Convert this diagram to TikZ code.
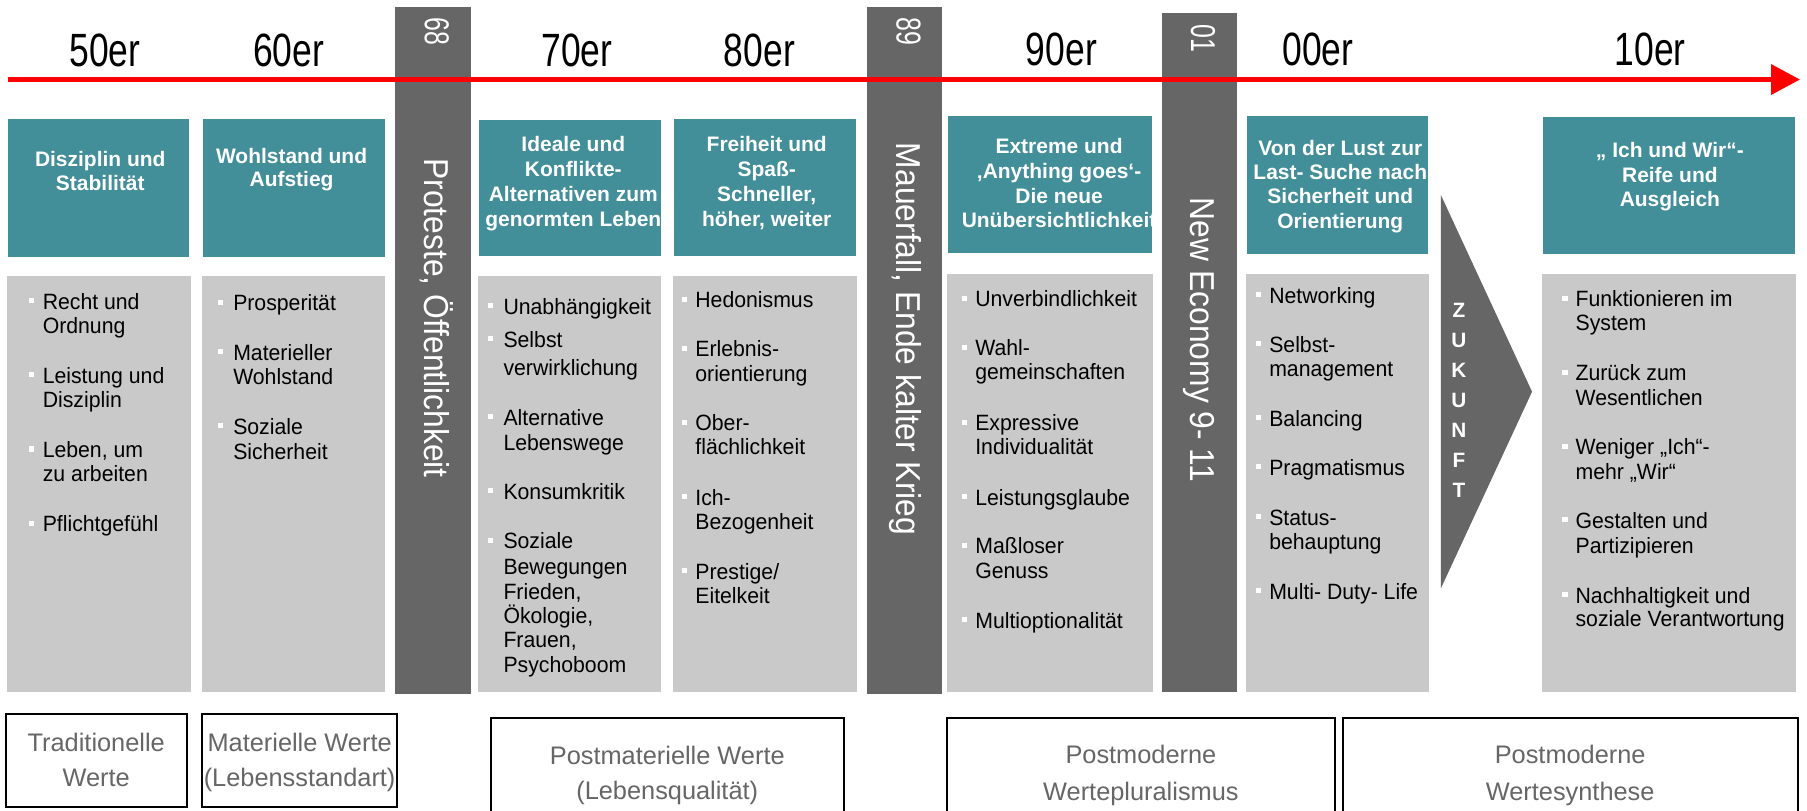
\documentclass[tikz,border=0pt]{standalone}
\usepackage{fontspec}
\setmainfont{Liberation Sans}
\newfontfamily\narrowfont{Liberation Sans}[FakeStretch=0.76]
\newfontfamily\yrfont{Liberation Sans}[FakeStretch=0.72]
\newfontfamily\rotfont{Liberation Sans}[FakeStretch=0.92]
\newfontfamily\listfont{Liberation Sans}[FakeStretch=0.96]
\usetikzlibrary{fit,arrows.meta}
\definecolor{tealc}{HTML}{428E99}
\definecolor{greyc}{HTML}{C9C9C9}
\definecolor{darkc}{HTML}{666666}
\definecolor{redc}{HTML}{FF0000}
\definecolor{bottxt}{HTML}{666666}
\tikzset{
 box/.style={inner sep=0pt, outer sep=0pt, draw=none},
 tealbox/.style={box, fill=tealc},
 greybox/.style={box, fill=greyc},
 bar/.style={box, fill=darkc},
 epoch/.style={anchor=base, inner sep=0pt, font=\narrowfont\fontsize{20.25}{24}\selectfont},
 yr/.style={anchor=mid, inner sep=0pt, rotate=-90, text=white, font=\yrfont\fontsize{15}{17}\selectfont},
 event/.style={anchor=mid, inner sep=0pt, rotate=-90, text=white, font=\rotfont\fontsize{15}{18}\selectfont},
 title/.style={anchor=base, inner sep=0pt, text=white, font=\bfseries\fontsize{9.1}{10.7}\selectfont},
 li/.style={anchor=base west, inner sep=0pt, font=\listfont\fontsize{9.6}{10.7}\selectfont},
 bul/.style={fill=white, inner sep=0pt, minimum size=2.2pt, draw=none},
 valbox/.style={draw=black, line width=0.8pt, fill=white, inner sep=0pt},
 valtxt/.style={anchor=base, inner sep=0pt, text=bottxt, font=\fontsize{11}{13}\selectfont},
}
\begin{document}
\begin{tikzpicture}[x=0.5pt,y=-0.5pt]
\useasboundingbox (0,0) rectangle (1568,703);
\fill[white] (0,0) rectangle (1568,703);
% teal boxes
\node[tealbox, fit={(6.9,103.5) (164,222.7)}] (t1) {};
\node[tealbox, fit={(176,103.5) (333.8,222.7)}] (t2) {};
\node[tealbox, fit={(415.8,104.1) (573.2,222.2)}] (t3) {};
\node[tealbox, fit={(585.1,103.3) (743,222.2)}] (t4) {};
\node[tealbox, fit={(822.6,100.4) (1000,219.8)}] (t5) {};
\node[tealbox, fit={(1081.9,100.7) (1239.2,220.4)}] (t6) {};
\node[tealbox, fit={(1338.8,101.2) (1557.4,220.7)}] (t7) {};
% grey boxes
\node[greybox, fit={(6.2,239.5) (165.7,600.2)}] (g1) {};
\node[greybox, fit={(175.3,239.5) (334.5,600.2)}] (g2) {};
\node[greybox, fit={(415.2,239.5) (573.2,600.2)}] (g3) {};
\node[greybox, fit={(584.2,239.5) (743.7,600.2)}] (g4) {};
\node[greybox, fit={(822,237.8) (1000.4,600.2)}] (g5) {};
\node[greybox, fit={(1081.2,237.8) (1239.9,600.2)}] (g6) {};
\node[greybox, fit={(1338.1,237.8) (1558.5,600.2)}] (g7) {};
% dark bars
\node[bar, fit={(343.1,6.4) (408.3,602.2)}] (bar68) {};
\node[bar, fit={(752.3,6.4) (817.4,602.2)}] (bar89) {};
\node[bar, fit={(1007.9,11.6) (1073.2,600.2)}] (bar01) {};
% chevron
\fill[darkc] (1250.3,169.2) -- (1329.4,339.9) -- (1250.3,510.5) -- cycle;
\node[anchor=center, inner sep=0pt, align=center, text=white, font=\bfseries\fontsize{9}{13}\selectfont] (zk) at (1266,347.1) {Z\\U\\K\\U\\N\\F\\T};
% timeline
\coordinate (ls) at (6.9,69);
\coordinate (le) at (1562,69);
\draw[redc, line width=2.5pt, -{Triangle[length=12.6pt, width=12.7pt]}] (ls) -- (le);
% epochs
\node[epoch] (e50) at (91,57.5) {50er};
\node[epoch] (e60) at (250.5,57.5) {60er};
\node[epoch] (e70) at (500.5,57.5) {70er};
\node[epoch] (e80) at (659,57.5) {80er};
\node[epoch] (e90) at (921,56.5) {90er};
\node[epoch] (e00) at (1143.7,57) {00er};
\node[epoch] (e10) at (1432,57) {10er};
% bar labels
\node[yr] (y68) at (374,27.5) {68};
\node[yr] (y89) at (783.2,27.5) {89};
\node[yr] (y01) at (1038.9,33.2) {01};
\node[event] (ev68) at (373.7,276) {Proteste, Öffentlichkeit};
\node[event] (ev89) at (782.9,294.3) {Mauerfall, Ende kalter Krieg};
\node[event] (ev01) at (1038.6,295) {New Economy 9- 11};
% titles
\begin{scope}
\clip (t1.south west) rectangle (t1.north east);
\node[title] (t1a) at (87,144.6) {Disziplin und};
\node[title] (t1b) at (87,164.9) {Stabilität};
\end{scope}
\begin{scope}
\clip (t2.south west) rectangle (t2.north east);
\node[title] (t2a) at (253,141.7) {Wohlstand und};
\node[title] (t2b) at (253,162) {Aufstieg};
\end{scope}
\begin{scope}
\clip (t3.south west) rectangle (t3.north east);
\node[title] (t3a) at (497.5,131.6) {Ideale und};
\node[title] (t3b) at (497.5,153.3) {Konflikte-};
\node[title] (t3c) at (497.5,175) {Alternativen zum};
\node[title] (t3d) at (497.5,196.7) {genormten Leben};
\end{scope}
\begin{scope}
\clip (t4.south west) rectangle (t4.north east);
\node[title] (t4a) at (665.3,131.6) {Freiheit und};
\node[title] (t4b) at (665.3,153.3) {Spaß-};
\node[title] (t4c) at (665.3,175) {Schneller,};
\node[title] (t4d) at (665.3,196.7) {höher, weiter};
\end{scope}
\begin{scope}
\clip (t5.south west) rectangle (t5.north east);
\node[title] (t5a) at (919,133.6) {Extreme und};
\node[title] (t5b) at (919,154.8) {‚Anything goes‘-};
\node[title] (t5c) at (919,176.4) {Die neue};
\node[title] (t5d) at (919,197.6) {Unübersichtlichkeit};
\end{scope}
\begin{scope}
\clip (t6.south west) rectangle (t6.north east);
\node[title] (t6a) at (1163,134.5) {Von der Lust zur};
\node[title] (t6b) at (1163,155.6) {Last- Suche nach};
\node[title] (t6c) at (1163,176.4) {Sicherheit und};
\node[title] (t6d) at (1163,198.2) {Orientierung};
\end{scope}
\begin{scope}
\clip (t7.south west) rectangle (t7.north east);
\node[title] (t7a) at (1449,136.5) {„ Ich und Wir“-};
\node[title] (t7b) at (1449,158.5) {Reife und};
\node[title] (t7c) at (1449,179.3) {Ausgleich};
\end{scope}
% list 1
\node[bul] (g1b1) at (27,261) {};
\node[li] (g1l1) at (36.7,268.4) {Recht und};
\node[li] (g1l2) at (36.7,289.2) {Ordnung};
\node[bul] (g1b2) at (27,325.2) {};
\node[li] (g1l3) at (36.7,332.6) {Leistung und};
\node[li] (g1l4) at (36.7,353.8) {Disziplin};
\node[bul] (g1b3) at (27,389.6) {};
\node[li] (g1l5) at (36.7,397) {Leben, um};
\node[li] (g1l6) at (36.7,418) {zu arbeiten};
\node[bul] (g1b4) at (27,454) {};
\node[li] (g1l7) at (36.7,461.4) {Pflichtgefühl};
% list 2
\node[bul] (g2b1) at (191.5,262.2) {};
\node[li] (g2l1) at (202,269.6) {Prosperität};
\node[bul] (g2b2) at (191.5,305) {};
\node[li] (g2l2) at (202,312.4) {Materieller};
\node[li] (g2l3) at (202,333.5) {Wohlstand};
\node[bul] (g2b3) at (191.5,369.5) {};
\node[li] (g2l4) at (202,376.9) {Soziale};
\node[li] (g2l5) at (202,398.3) {Sicherheit};
% list 3
\node[bul] (g3b1) at (426,265.1) {};
\node[li] (g3l1) at (436.5,272.5) {Unabhängigkeit};
\node[bul] (g3b2) at (426,294) {};
\node[li] (g3l2) at (436.5,301.4) {Selbst};
\node[li] (g3l3) at (436.5,326) {verwirklichung};
\node[bul] (g3b3) at (426,361.4) {};
\node[li] (g3l4) at (436.5,368.8) {Alternative};
\node[li] (g3l5) at (436.5,390.5) {Lebenswege};
\node[bul] (g3b4) at (426,425.6) {};
\node[li] (g3l6) at (436.5,433) {Konsumkritik};
\node[bul] (g3b5) at (426,468.7) {};
\node[li] (g3l7) at (436.5,476.1) {Soziale};
\node[li] (g3l8) at (436.5,498.4) {Bewegungen};
\node[li] (g3l9) at (436.5,519.8) {Frieden,};
\node[li] (g3l10) at (436.5,540.9) {Ökologie,};
\node[li] (g3l11) at (436.5,562) {Frauen,};
\node[li] (g3l12) at (436.5,583.4) {Psychoboom};
% list 4
\node[bul] (g4b1) at (594,259.6) {};
\node[li] (g4l1) at (603,267) {Hedonismus};
\node[bul] (g4b2) at (594,302.1) {};
\node[li] (g4l2) at (603,309.5) {Erlebnis-};
\node[li] (g4l3) at (603,330.6) {orientierung};
\node[bul] (g4b3) at (594,366.3) {};
\node[li] (g4l4) at (603,373.7) {Ober-};
\node[li] (g4l5) at (603,394.8) {flächlichkeit};
\node[bul] (g4b4) at (594,430.8) {};
\node[li] (g4l6) at (603,438.2) {Ich-};
\node[li] (g4l7) at (603,459.3) {Bezogenheit};
\node[bul] (g4b5) at (594,495.3) {};
\node[li] (g4l8) at (603,502.7) {Prestige/};
\node[li] (g4l9) at (603,524.1) {Eitelkeit};
% list 5
\node[bul] (g5b1) at (837,258.7) {};
\node[li] (g5l1) at (845.9,266.1) {Unverbindlichkeit};
\node[bul] (g5b2) at (837,301.5) {};
\node[li] (g5l2) at (845.9,308.9) {Wahl-};
\node[li] (g5l3) at (845.9,329.7) {gemeinschaften};
\node[bul] (g5b3) at (837,366.3) {};
\node[li] (g5l4) at (845.9,373.7) {Expressive};
\node[li] (g5l5) at (845.9,394.2) {Individualität};
\node[bul] (g5b4) at (837,430.8) {};
\node[li] (g5l6) at (845.9,438.2) {Leistungsglaube};
\node[bul] (g5b5) at (837,473.3) {};
\node[li] (g5l7) at (845.9,480.7) {Maßloser};
\node[li] (g5l8) at (845.9,501.8) {Genuss};
\node[bul] (g5b6) at (837,537.8) {};
\node[li] (g5l9) at (845.9,545.2) {Multioptionalität};
% list 6
\node[bul] (g6b1) at (1092,255.8) {};
\node[li] (g6l1) at (1101,263.2) {Networking};
\node[bul] (g6b2) at (1092,298.3) {};
\node[li] (g6l2) at (1101,305.7) {Selbst-};
\node[li] (g6l3) at (1101,326.9) {management};
\node[bul] (g6b3) at (1092,362.3) {};
\node[li] (g6l4) at (1101,369.7) {Balancing};
\node[bul] (g6b4) at (1092,404.8) {};
\node[li] (g6l5) at (1101,412.2) {Pragmatismus};
\node[bul] (g6b5) at (1092,448.2) {};
\node[li] (g6l6) at (1101,455.6) {Status-};
\node[li] (g6l7) at (1101,476.7) {behauptung};
\node[bul] (g6b6) at (1092,512.7) {};
\node[li] (g6l8) at (1101,520.1) {Multi- Duty- Life};
% list 7
\node[bul] (g7b1) at (1358,258.7) {};
\node[li] (g7l1) at (1366.8,266.1) {Funktionieren im};
\node[li] (g7l2) at (1366.8,287.2) {System};
\node[bul] (g7b2) at (1358,322.9) {};
\node[li] (g7l3) at (1366.8,330.3) {Zurück zum};
\node[li] (g7l4) at (1366.8,352) {Wesentlichen};
\node[bul] (g7b3) at (1358,387.4) {};
\node[li] (g7l5) at (1366.8,394.8) {Weniger „Ich“-};
\node[li] (g7l6) at (1366.8,415.9) {mehr „Wir“};
\node[bul] (g7b4) at (1358,451.1) {};
\node[li] (g7l7) at (1366.8,458.5) {Gestalten und};
\node[li] (g7l8) at (1366.8,480.1) {Partizipieren};
\node[bul] (g7b5) at (1358,516.1) {};
\node[li] (g7l9) at (1366.8,523.5) {Nachhaltigkeit und};
\node[li] (g7l10) at (1366.8,543.8) {soziale Verantwortung};
% value boxes
\node[valbox, fit={(5,619.6) (162,700.5)}] (v1) {};
\node[valbox, fit={(175.4,619.6) (344.7,700.5)}] (v2) {};
\node[valbox, fit={(425.9,623.3) (732.3,712)}] (v3) {};
\node[valbox, fit={(822.1,623.3) (1158.5,712)}] (v4) {};
\node[valbox, fit={(1165,623.3) (1560,712)}] (v5) {};
\node[valtxt] (v1a) at (83.5,652.3) {Traditionelle};
\node[valtxt] (v1b) at (83.5,682.6) {Werte};
\node[valtxt] (v2a) at (260,652.3) {Materielle Werte};
\node[valtxt] (v2b) at (260,682.6) {(Lebensstandart)};
\node[valtxt] (v3a) at (579,663.8) {Postmaterielle Werte};
\node[valtxt] (v3b) at (579,694) {(Lebensqualität)};
\node[valtxt] (v4a) at (990,662.4) {Postmoderne};
\node[valtxt] (v4b) at (990,694.2) {Wertepluralismus};
\node[valtxt] (v5a) at (1362.5,662.4) {Postmoderne};
\node[valtxt] (v5b) at (1362.5,694.2) {Wertesynthese};
\end{tikzpicture}
\end{document}
